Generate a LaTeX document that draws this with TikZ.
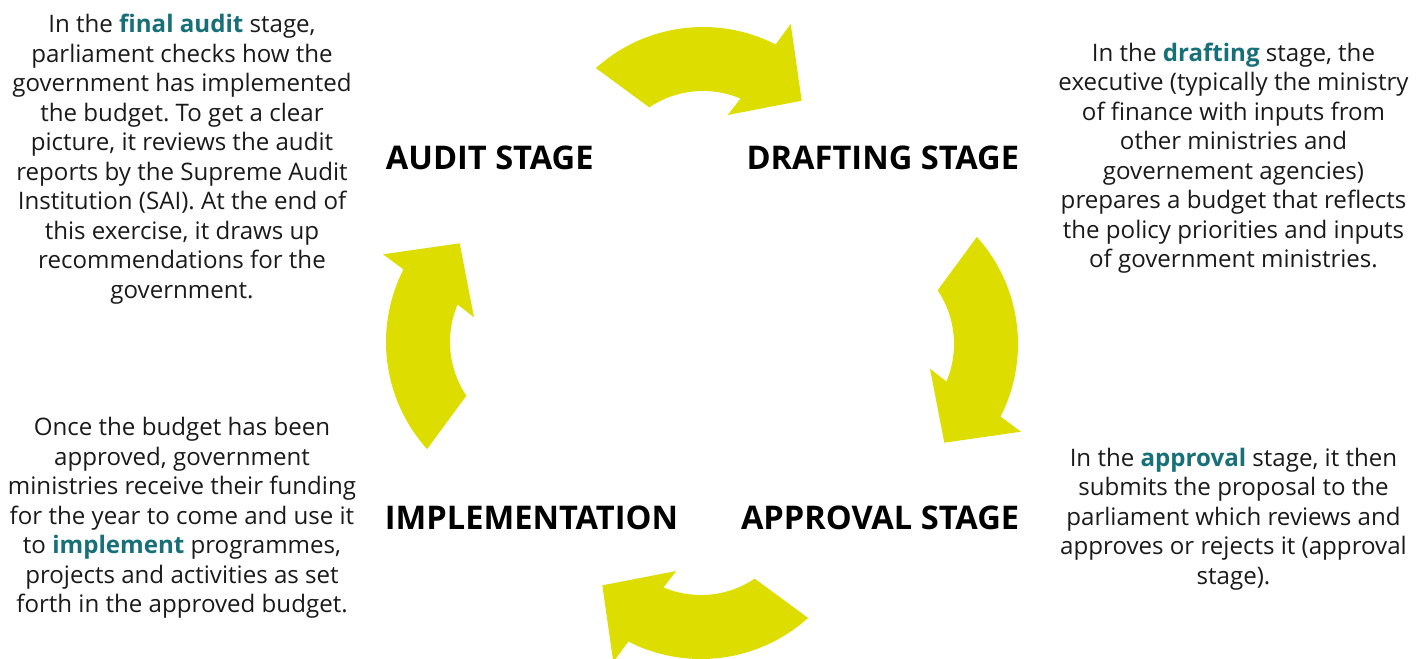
\documentclass[tikz,border=0pt]{standalone}
\usepackage{fontspec}
\setmainfont{Open Sans}
\frenchspacing
\definecolor{cycleyellow}{RGB}{222,221,0}
\definecolor{stageteal}{RGB}{23,112,120}
\definecolor{bodygrey}{RGB}{26,26,26}
\newcommand{\kw}[1]{\textcolor{stageteal}{\textbf{#1}}}

\begin{document}
\begin{tikzpicture}[x=0.5pt,y=0.5pt,yscale=-1,xscale=1,
  bodytext/.style={inner sep=0.75pt, align=center, text=bodygrey, font=\fontsize{12.05}{14.75}\selectfont},
  stagelabel/.style={inner sep=0.75pt, font=\fontsize{16.3}{18}\selectfont\bfseries}]
\useasboundingbox (0,0) rectangle (1421,659);

%Shape: Circular Arrow [id:top]
\fill [cycleyellow] (595.9,68.1) arc[start angle=-132, end angle=-63, radius=160] -- (790.7,24) -- (801.7,100.7) -- (727.7,115) -- (740.5,98.6) arc[start angle=-67, end angle=-124, radius=96] -- cycle ;
%Shape: Circular Arrow [id:right]
\fill [cycleyellow, rotate around={90:(702,343)}] (595.9,68.1) arc[start angle=-132, end angle=-63, radius=160] -- (790.7,24) -- (801.7,100.7) -- (727.7,115) -- (740.5,98.6) arc[start angle=-67, end angle=-124, radius=96] -- cycle ;
%Shape: Circular Arrow [id:bottom]
\fill [cycleyellow, rotate around={180:(702,343)}] (595.9,68.1) arc[start angle=-132, end angle=-63, radius=160] -- (790.7,24) -- (801.7,100.7) -- (727.7,115) -- (740.5,98.6) arc[start angle=-67, end angle=-124, radius=96] -- cycle ;
%Shape: Circular Arrow [id:left]
\fill [cycleyellow, rotate around={270:(702,343)}] (595.9,68.1) arc[start angle=-132, end angle=-63, radius=160] -- (790.7,24) -- (801.7,100.7) -- (727.7,115) -- (740.5,98.6) arc[start angle=-67, end angle=-124, radius=96] -- cycle ;

% Text Node
\draw (384,158) node [anchor=west] [stagelabel] (audit) {AUDIT STAGE};
% Text Node
\draw (1021,158) node [anchor=east] [stagelabel] (drafting) {DRAFTING STAGE};
% Text Node
\draw (383,518) node [anchor=west] [stagelabel] (implementation) {IMPLEMENTATION};
% Text Node
\draw (1021,518) node [anchor=east] [stagelabel] (approval) {APPROVAL STAGE};

% Text Node
\draw (182,159) node [bodytext] (audittext) {In the \kw{final audit} stage,\\ parliament checks how the\\ government has implemented\\ the budget. To get a clear\\ picture, it reviews the audit\\ reports by the Supreme Audit\\ Institution (SAI). At the end of\\ this exercise, it draws up\\ recommendations for the\\ government.};
% Text Node
\draw (1233.5,158) node [bodytext] (draftingtext) {In the \kw{drafting} stage, the\\ executive (typically the ministry\\ of finance with inputs from\\ other ministries and\\ governement agencies)\\ prepares a budget that reflects\\ the policy priorities and inputs\\ of government ministries.};
% Text Node
\draw (182,518) node [bodytext] (implementationtext) {Once the budget has been\\ approved, government\\ ministries receive their funding\\ for the year to come and use it\\ to \kw{implement} programmes,\\ projects and activities as set\\ forth in the approved budget.};
% Text Node
\draw (1233.5,519) node [bodytext] (approvaltext) {In the \kw{approval} stage, it then\\ submits the proposal to the\\ parliament which reviews and\\ approves or rejects it (approval\\ stage).};

\end{tikzpicture}
\end{document}
